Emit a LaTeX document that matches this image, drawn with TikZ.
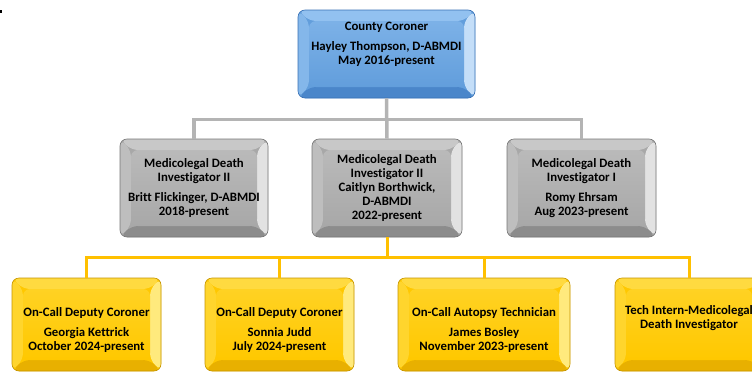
\documentclass[tikz,border=0pt]{standalone}
\usepackage{fontspec}
\setmainfont{Carlito}[Ligatures={NoCommon}]
\usetikzlibrary{calc}
\newcommand{\myStrut}[1]{\rule{0pt}{#1}}
\definecolor{bFace}{RGB}{98,158,220}
\definecolor{bTop}{RGB}{146,193,240}
\definecolor{bRight}{RGB}{196,222,248}
\definecolor{bBot}{RGB}{74,134,202}
\definecolor{bEdge}{RGB}{56,112,180}
\definecolor{gFace}{RGB}{168,168,168}
\definecolor{gTop}{RGB}{200,200,200}
\definecolor{gRight}{RGB}{226,226,226}
\definecolor{gBot}{RGB}{140,140,140}
\definecolor{gEdge}{RGB}{118,118,118}
\definecolor{yFace}{RGB}{255,200,0}
\definecolor{yTop}{RGB}{255,218,64}
\definecolor{yRight}{RGB}{255,234,125}
\definecolor{yBot}{RGB}{232,176,0}
\definecolor{yEdge}{RGB}{196,148,0}
\definecolor{grayline}{RGB}{180,180,180}
\definecolor{yelline}{RGB}{255,192,0}
\tikzset{
  bevelbox/.style n args={5}{rectangle, rounded corners=7pt, fill=#1, draw=#5,
    line width=0.6pt, inner sep=0pt, align=center,
    font=\bfseries\fontsize{12.8}{14}\selectfont,
    path picture={
      \fill[#2] (path picture bounding box.north west) -- (path picture bounding box.north east)
        -- ([shift={(-11pt,-11pt)}]path picture bounding box.north east)
        -- ([shift={(11pt,-11pt)}]path picture bounding box.north west) -- cycle;
      \fill[#2!70!#1] (path picture bounding box.north west) -- ([shift={(11pt,-11pt)}]path picture bounding box.north west)
        -- ([shift={(11pt,11pt)}]path picture bounding box.south west) -- (path picture bounding box.south west) -- cycle;
      \fill[#3] (path picture bounding box.north east) -- (path picture bounding box.south east)
        -- ([shift={(-11pt,11pt)}]path picture bounding box.south east)
        -- ([shift={(-11pt,-11pt)}]path picture bounding box.north east) -- cycle;
      \fill[#4] (path picture bounding box.south west) -- ([shift={(11pt,11pt)}]path picture bounding box.south west)
        -- ([shift={(-11pt,11pt)}]path picture bounding box.south east) -- (path picture bounding box.south east) -- cycle;
      \shade[top color=#2!55!#1, bottom color=#1] ([shift={(11pt,-11pt)}]path picture bounding box.north west)
        rectangle ([shift={(-11pt,11pt)}]path picture bounding box.south east);
    }},
  bluebox/.style={bevelbox={bFace}{bTop}{bRight}{bBot}{bEdge}},
  graybox/.style={bevelbox={gFace}{gTop}{gRight}{gBot}{gEdge}},
  yellowbox/.style={bevelbox={yFace}{yTop}{yRight}{yBot}{yEdge}},
  grayconn/.style={draw=grayline, line width=3.5pt},
  yelconn/.style={draw=yelline, line width=3pt},
}
\begin{document}
\begin{tikzpicture}[x=1pt,y=-1pt]
\useasboundingbox (0,0) rectangle (752,372);
\clip (0,0) rectangle (752,372);
\fill[black] (0,9.5) rectangle (1.5,13);

\node[bluebox, minimum width=177pt, minimum height=88pt, text depth=21pt] (top) at (386.5,54)
  {County Coroner\\[6pt]Hayley Thompson, D-ABMDI\\May 2016-present};

\node[graybox, minimum width=148pt, minimum height=98pt] (m1) at (194,188)
  {Medicolegal Death\\Investigator II\\[6pt]Britt Flickinger, D-ABMDI\\2018-present};
\node[graybox, minimum width=150pt, minimum height=98pt] (m2) at (387,188)
  {Medicolegal Death\\Investigator II\\Caitlyn Borthwick,\\D-ABMDI\\2022-present};
\node[graybox, minimum width=149pt, minimum height=98pt] (m3) at (581.5,188)
  {Medicolegal Death\\Investigator I\\[6pt]Romy Ehrsam\\Aug 2023-present};

\node[yellowbox, minimum width=149pt, minimum height=93pt] (b1) at (86.5,324.5)
  {\myStrut{21pt}On-Call Deputy Coroner\\[6pt]Georgia Kettrick\\October 2024-present};
\node[yellowbox, minimum width=149pt, minimum height=93pt] (b2) at (279.5,324.5)
  {\myStrut{21pt}On-Call Deputy Coroner\\[6pt]Sonnia Judd\\July 2024-present};
\node[yellowbox, minimum width=172pt, minimum height=93pt] (b3) at (484,324.5)
  {\myStrut{21pt}On-Call Autopsy Technician\\[6pt]James Bosley\\November 2023-present};
\node[yellowbox, minimum width=148pt, minimum height=93pt, text depth=15pt] (b4) at (689,324.5)
  {Tech Intern-Medicolegal\\Death Investigator};

\coordinate (gbus) at (387,119.5);
\coordinate (ybus) at (387,257);

\draw[grayconn] (top.south) -- (m2.north);
\draw[grayconn] (m1.north) |- (gbus);
\draw[grayconn] (m3.north) |- (gbus);

\draw[yelconn] (m2.south) -- (ybus);
\draw[yelconn] (b1.north) |- (ybus);
\draw[yelconn] (b2.north) |- (ybus);
\draw[yelconn] (b3.north) |- (ybus);
\draw[yelconn] (b4.north) |- (ybus);
\end{tikzpicture}
\end{document}
